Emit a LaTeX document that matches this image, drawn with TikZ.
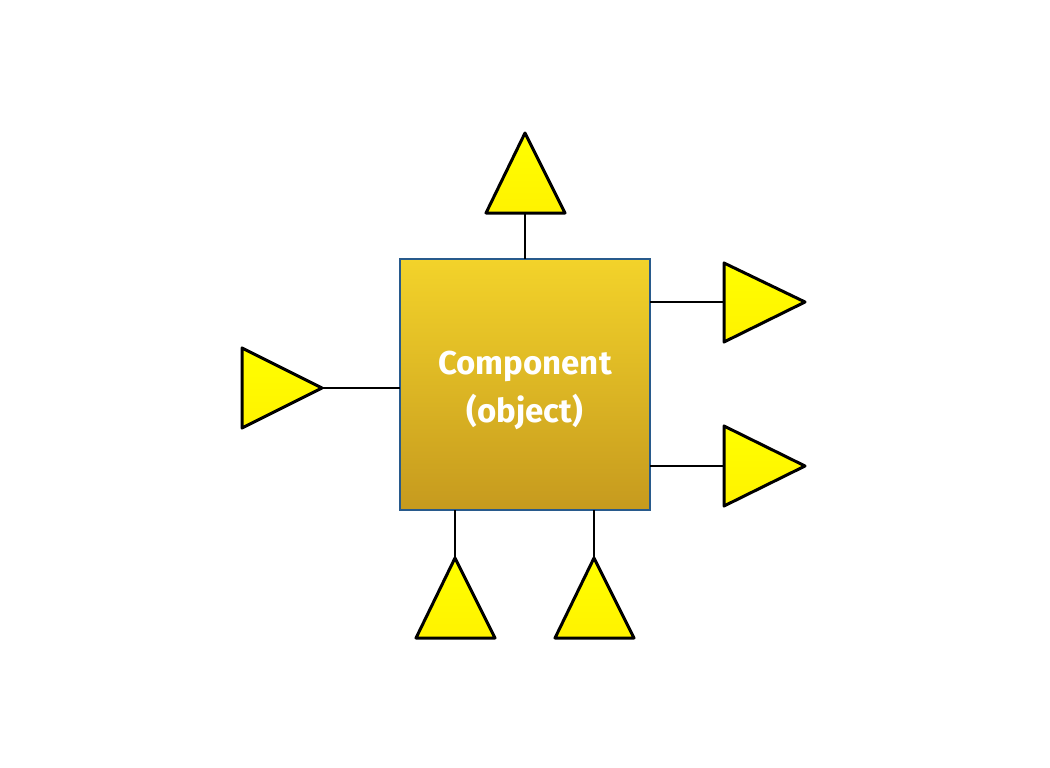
\documentclass[tikz,border=0pt]{standalone}
\usepackage{fontspec}
\setmainfont{Fira Sans}
\begin{document}
\begin{tikzpicture}[x=1pt,y=-1pt,
  port/.style={draw=black,line width=3pt,line join=round,top color=yellow!100,bottom color=yellow!90!orange},
  wire/.style={draw=black,line width=2.8pt},
  comp/.style={draw={rgb,255:red,40;green,90;blue,140},line width=2pt,top color={rgb,255:red,243;green,211;blue,42},bottom color={rgb,255:red,198;green,154;blue,30}}]
\useasboundingbox (0,0) rectangle (1050,768);
% component
\path[comp] (400,259) rectangle (650,510);
\node[font=\bfseries\fontsize{33}{48}\selectfont,text=white,align=center] (c) at (525,390) {Component\\(object)};
\coordinate (ctop) at (525,259);
\coordinate (cr1) at (650,302);
\coordinate (cr2) at (650,466);
\coordinate (cl) at (400,388);
\coordinate (cb1) at (455,510);
\coordinate (cb2) at (594,510);
% ports
\path[port] (525,133) -- (565,213) -- (486,213) -- cycle;
\coordinate (ptop) at (525,213);
\path[port] (724,263) -- (805,302) -- (724,342) -- cycle;
\coordinate (pr1) at (724,302);
\path[port] (724,426) -- (805,466) -- (724,506) -- cycle;
\coordinate (pr2) at (724,466);
\path[port] (242,348) -- (322,388) -- (242,428) -- cycle;
\coordinate (pl) at (322,388);
\path[port] (455,558) -- (495,638) -- (416,638) -- cycle;
\coordinate (pb1) at (455,558);
\path[port] (594,558) -- (634,638) -- (555,638) -- cycle;
\coordinate (pb2) at (594,558);
% wires
\draw[wire] (ptop) -- (ctop);
\draw[wire] (cr1) -- (pr1);
\draw[wire] (cr2) -- (pr2);
\draw[wire] (pl) -- (cl);
\draw[wire] (cb1) -- (pb1);
\draw[wire] (cb2) -- (pb2);
\end{tikzpicture}
\end{document}
